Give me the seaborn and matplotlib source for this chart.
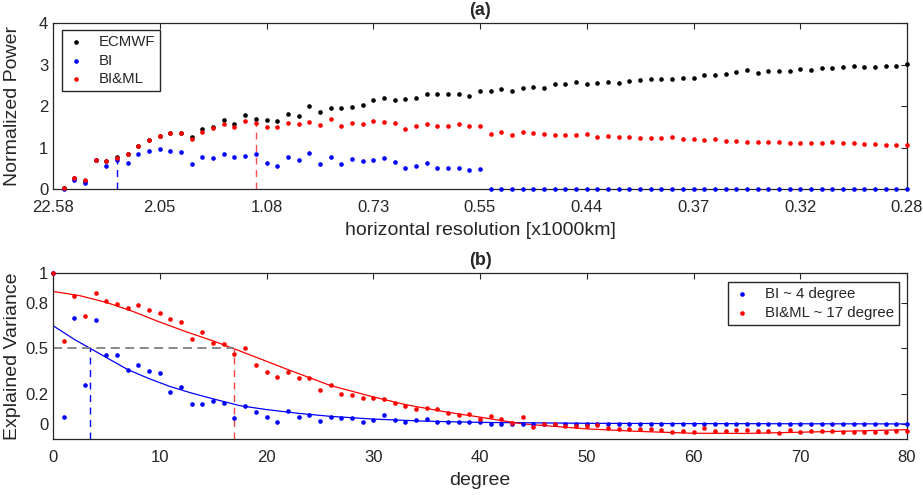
import matplotlib
matplotlib.use("Agg")
import matplotlib.pyplot as plt
import seaborn as sns

# ---- panel (a): normalized power vs. wavenumber index ----
wave_idx = list(range(1, 81))
res_ticks = [0, 10, 20, 30, 40, 50, 60, 70, 80]
res_labels = ["22.58", "2.05", "1.08", "0.73", "0.55", "0.44", "0.37", "0.32", "0.28"]

ecmwf_power = [
    0.03, 0.27, 0.2, 0.71, 0.68, 0.76, 0.84, 1.04, 1.17, 1.28,
    1.36, 1.35, 1.245, 1.453, 1.50, 1.663, 1.574, 1.775, 1.68, 1.655,
    1.646, 1.807, 1.759, 1.99, 1.855, 1.96, 1.952, 1.984, 2.024, 2.137,
    2.185, 2.153, 2.169, 2.185, 2.28, 2.29, 2.297, 2.29, 2.249, 2.36,
    2.36, 2.41, 2.36, 2.426, 2.45, 2.44, 2.53, 2.53, 2.586, 2.52,
    2.56, 2.57, 2.56, 2.61, 2.62, 2.65, 2.65, 2.65, 2.68, 2.68,
    2.755, 2.739, 2.763, 2.82, 2.867, 2.803, 2.851, 2.851, 2.843, 2.89,
    2.867, 2.916, 2.916, 2.932, 2.972, 2.948, 2.94, 2.972, 2.972, 3.02,
]
bi_power = [
    0.0, 0.22, 0.145, 0.70, 0.546, 0.707, 0.635, 0.835, 0.915, 0.97,
    0.923, 0.89, 0.60, 0.78, 0.755, 0.835, 0.77, 0.80, 0.843, 0.615,
    0.55, 0.775, 0.70, 0.867, 0.606, 0.763, 0.594, 0.731, 0.675, 0.699,
    0.739, 0.658, 0.506, 0.562, 0.635, 0.506, 0.514, 0.514, 0.458, 0.474,
    0.0, 0.0, 0.0, 0.0, 0.0, 0.0, 0.0, 0.0, 0.0, 0.0,
    0.0, 0.0, 0.0, 0.0, 0.0, 0.0, 0.0, 0.0, 0.0, 0.0,
    0.0, 0.0, 0.0, 0.0, 0.0, 0.0, 0.0, 0.0, 0.0, 0.0,
    0.0, 0.0, 0.0, 0.0, 0.0, 0.0, 0.0, 0.0, 0.0, 0.0,
]
biml_power = [
    0.03, 0.265, 0.21, 0.70, 0.667, 0.755, 0.835, 1.036, 1.17, 1.277,
    1.357, 1.35, 1.205, 1.38, 1.46, 1.566, 1.486, 1.647, 1.582, 1.49,
    1.50, 1.60, 1.562, 1.61, 1.541, 1.695, 1.526, 1.598, 1.566, 1.631,
    1.622, 1.598, 1.438, 1.526, 1.574, 1.526, 1.51, 1.566, 1.51, 1.52,
    1.33, 1.365, 1.293, 1.373, 1.35, 1.333, 1.309, 1.309, 1.309, 1.317,
    1.261, 1.269, 1.25, 1.265, 1.237, 1.24, 1.234, 1.265, 1.197, 1.194,
    1.18, 1.197, 1.165, 1.157, 1.141, 1.133, 1.141, 1.125, 1.117, 1.117,
    1.1, 1.1, 1.133, 1.1, 1.1, 1.084, 1.084, 1.068, 1.068, 1.068,
]
bi_cut = 6
biml_cut = 19

# ---- panel (b): explained variance vs. degree ----
degree = list(range(0, 81))
bi_var = [
    1.0, 0.044, 0.704, 0.258, 0.691, 0.459, 0.459, 0.355, 0.388, 0.353,
    0.338, 0.212, 0.245, 0.13, 0.134, 0.152, 0.141, 0.04, 0.119, 0.081,
    0.046, 0.015, 0.083, 0.046, 0.057, 0.017, 0.046, 0.037, 0.037, 0.013,
    0.028, 0.06, 0.024, 0.015, 0.028, 0.033, 0.011, 0.013, 0.013, 0.013,
    0.013, 0.0, 0.0, 0.0, 0.0, 0.0, 0.0, 0.0, 0.0, 0.0,
    0.0, 0.0, 0.0, 0.0, 0.0, 0.0, 0.0, 0.0, 0.0, 0.0,
    0.0, 0.0, 0.0, 0.0, 0.0, 0.0, 0.0, 0.0, 0.0, 0.0,
    0.0, 0.0, 0.0, 0.0, 0.0, 0.0, 0.0, 0.0, 0.0, 0.0, 0.0,
]
biml_var = [
    1.0, 0.552, 0.845, 0.713, 0.865, 0.812, 0.797, 0.766, 0.786, 0.752,
    0.735, 0.697, 0.675, 0.565, 0.607, 0.538, 0.527, 0.465, 0.505, 0.39,
    0.344, 0.313, 0.346, 0.307, 0.302, 0.227, 0.258, 0.199, 0.192, 0.174,
    0.172, 0.166, 0.141, 0.119, 0.099, 0.106, 0.101, 0.072, 0.062, 0.066,
    0.033, 0.05, 0.031, 0.007, 0.046, -0.02, 0.002, 0.002, -0.011, -0.015,
    -0.015, -0.007, -0.029, -0.035, -0.033, -0.033, -0.033, -0.038, -0.055, -0.047,
    -0.055, -0.029, -0.047, -0.047, -0.042, -0.038, -0.044, -0.044, -0.058, -0.042,
    -0.055, -0.047, -0.047, -0.047, -0.051, -0.053, -0.055, -0.055, -0.053, -0.049, -0.049,
]

# fitted curves
bi_fit_deg = [0, 2, 3.5, 5, 7, 9, 11, 13, 15, 17.5, 20, 23, 26, 30, 35, 40, 50, 60, 70, 80]
bi_fit = [0.651, 0.56, 0.5, 0.44, 0.36, 0.30, 0.247, 0.204, 0.166, 0.121,
          0.095, 0.07, 0.05, 0.032, 0.018, 0.01, 0.004, 0.002, 0.001, 0.0]
biml_fit_deg = [0, 2.5, 5, 7.5, 10, 12.5, 15, 17, 20, 22, 26, 30, 33, 37, 40, 44,
                50, 55, 60, 65, 70, 75, 80]
biml_fit = [0.878, 0.85, 0.805, 0.745, 0.675, 0.61, 0.55, 0.497, 0.415, 0.36, 0.254,
            0.179, 0.128, 0.077, 0.045, 0.0, -0.033, -0.05, -0.062, -0.063, -0.055,
            -0.047, -0.038]
var_ticks = [0, 0.2, 0.5, 0.8, 1]
var_labels = ["0", "0.2", "0.5", "0.8", "1"]
half_var = 0.5
bi_half = 3.5
biml_half = 17

sns.set_style("white")
plt.rcParams["font.family"] = ["Liberation Sans", "DejaVu Sans"]

fig = plt.figure(figsize=(9.23, 4.95), dpi=100)
ax1 = fig.add_axes([53 / 923, 1 - 189 / 495, 854 / 923, 166 / 495])
ax2 = fig.add_axes([53 / 923, 1 - 439 / 495, 854 / 923, 166 / 495])

dot = dict(s=11, linewidth=0, clip_on=False, zorder=3)
leg_kw = dict(borderaxespad=0, fontsize=10.8, fancybox=False, edgecolor="#262626",
              framealpha=1, handlelength=1.2, handletextpad=0.9, borderpad=0.35,
              labelspacing=0.3)

# (a)
sns.scatterplot(x=wave_idx, y=ecmwf_power, color="black", label="ECMWF", ax=ax1, **dot)
sns.scatterplot(x=wave_idx, y=bi_power, color="blue", label="BI", ax=ax1, **dot)
sns.scatterplot(x=wave_idx, y=biml_power, color="red", label="BI&ML", ax=ax1, **dot)
ax1.vlines(bi_cut, 0, bi_power[bi_cut - 1], colors="blue", linestyles=(0, (5, 4)), lw=1)
ax1.vlines(biml_cut, 0, biml_power[biml_cut - 1], colors="#ff5050", linestyles=(0, (5, 4)), lw=1)
ax1.set_xlim(0, 80)
ax1.set_ylim(0, 4)
ax1.set_xticks(res_ticks)
ax1.set_xticklabels(res_labels)
ax1.set_yticks([0, 1, 2, 3, 4])
ax1.set_xlabel("horizontal resolution [x1000km]", fontsize=14, labelpad=5)
ax1.set_ylabel("Normalized Power", fontsize=14)
ax1.set_title("(a)", fontweight="bold", fontsize=13, pad=6)
ax1.legend(loc="upper left", bbox_to_anchor=(0.0105, 0.958), **leg_kw)

# (b)
sns.lineplot(x=bi_fit_deg, y=bi_fit, color="blue", lw=0.9, estimator=None, legend=False, ax=ax2)
sns.lineplot(x=biml_fit_deg, y=biml_fit, color="red", lw=0.9, estimator=None, legend=False, ax=ax2)
ax2.hlines(half_var, 0, biml_half, colors="#808080", linestyles=(0, (5, 3)), lw=1.3)
ax2.vlines(bi_half, -0.1, half_var, colors="blue", linestyles=(0, (5, 4)), lw=1)
ax2.vlines(biml_half, -0.1, half_var, colors="#ff4040", linestyles=(0, (5, 4)), lw=1)
sns.scatterplot(x=degree, y=bi_var, color="blue", label="BI ~ 4 degree", ax=ax2, **dot)
sns.scatterplot(x=degree, y=biml_var, color="red", label="BI&ML ~ 17 degree", ax=ax2, **dot)
ax2.set_xlim(0, 80)
ax2.set_ylim(-0.1, 1)
ax2.set_xticks(res_ticks)
ax2.set_yticks(var_ticks)
ax2.set_yticklabels(var_labels)
ax2.set_xlabel("degree", fontsize=14, labelpad=5)
ax2.set_ylabel("Explained Variance", fontsize=14)
ax2.set_title("(b)", fontweight="bold", fontsize=13, pad=6)
ax2.legend(loc="upper right", bbox_to_anchor=(0.9906, 0.946), **leg_kw)

for ax in (ax1, ax2):
    ax.tick_params(direction="in", length=4, width=0.8, color="#262626",
                   labelsize=12, top=True, right=True)
    ax.tick_params(axis="x", pad=8)
    ax.tick_params(axis="y", pad=3.5)
    ax.yaxis.set_label_coords(-0.0375, 0.5)
    for sp in ax.spines.values():
        sp.set_color("#262626")
        sp.set_linewidth(0.9)

fig.savefig("out.png", dpi=100)
